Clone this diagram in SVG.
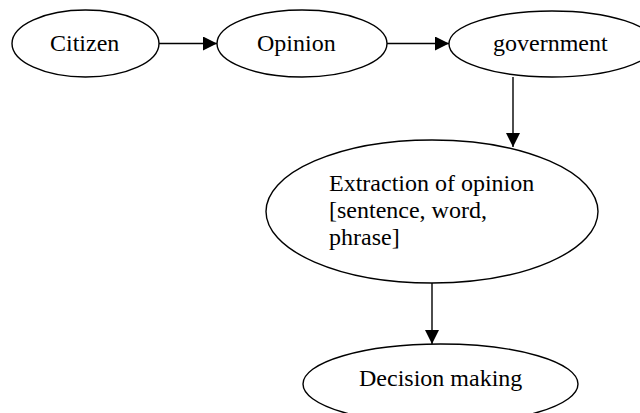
<svg xmlns="http://www.w3.org/2000/svg" width="640" height="413" viewBox="0 0 640 413">
<style>
.node{fill:#fff;stroke:#000;stroke-width:1.4}
.lbl{font-family:"Liberation Serif","Times New Roman",serif;font-size:24px;fill:#000}
.edge{stroke:#000;stroke-width:1.4;fill:none;marker-end:url(#ah)}
</style>
<defs>
<marker id="ah" markerUnits="userSpaceOnUse" markerWidth="15" markerHeight="15" refX="14" refY="7" orient="auto">
<path d="M0,0 L14,7 L0,14 Z" fill="#000"/>
</marker>
</defs>
<rect width="640" height="413" fill="#fff"/>
<g id="citizen">
<ellipse class="node" cx="85.5" cy="43.5" rx="73.5" ry="33.5"/>
<text class="lbl" x="50" y="51">Citizen</text>
</g>
<g id="opinion">
<ellipse class="node" cx="302" cy="43.5" rx="85" ry="33.5"/>
<text class="lbl" x="257" y="51">Opinion</text>
</g>
<g id="government">
<ellipse class="node" cx="552" cy="44" rx="103" ry="33"/>
<text class="lbl" x="493" y="51">government</text>
</g>
<g id="extraction">
<ellipse class="node" cx="432" cy="211.5" rx="166" ry="71.5"/>
<text class="lbl" x="329" y="191">Extraction of opinion</text>
<text class="lbl" x="329" y="218">[sentence, word,</text>
<text class="lbl" x="329" y="245">phrase]</text>
</g>
<g id="decision">
<ellipse class="node" cx="440.5" cy="384" rx="137.5" ry="40"/>
<text class="lbl" x="359" y="386">Decision making</text>
</g>
<g id="connectors">
<line class="edge" x1="159" y1="43.5" x2="217" y2="43.5"/>
<line class="edge" x1="387" y1="43.5" x2="449" y2="43.5"/>
<line class="edge" x1="513" y1="77" x2="513" y2="147"/>
<line class="edge" x1="432" y1="283" x2="432" y2="344"/>
</g>
</svg>
